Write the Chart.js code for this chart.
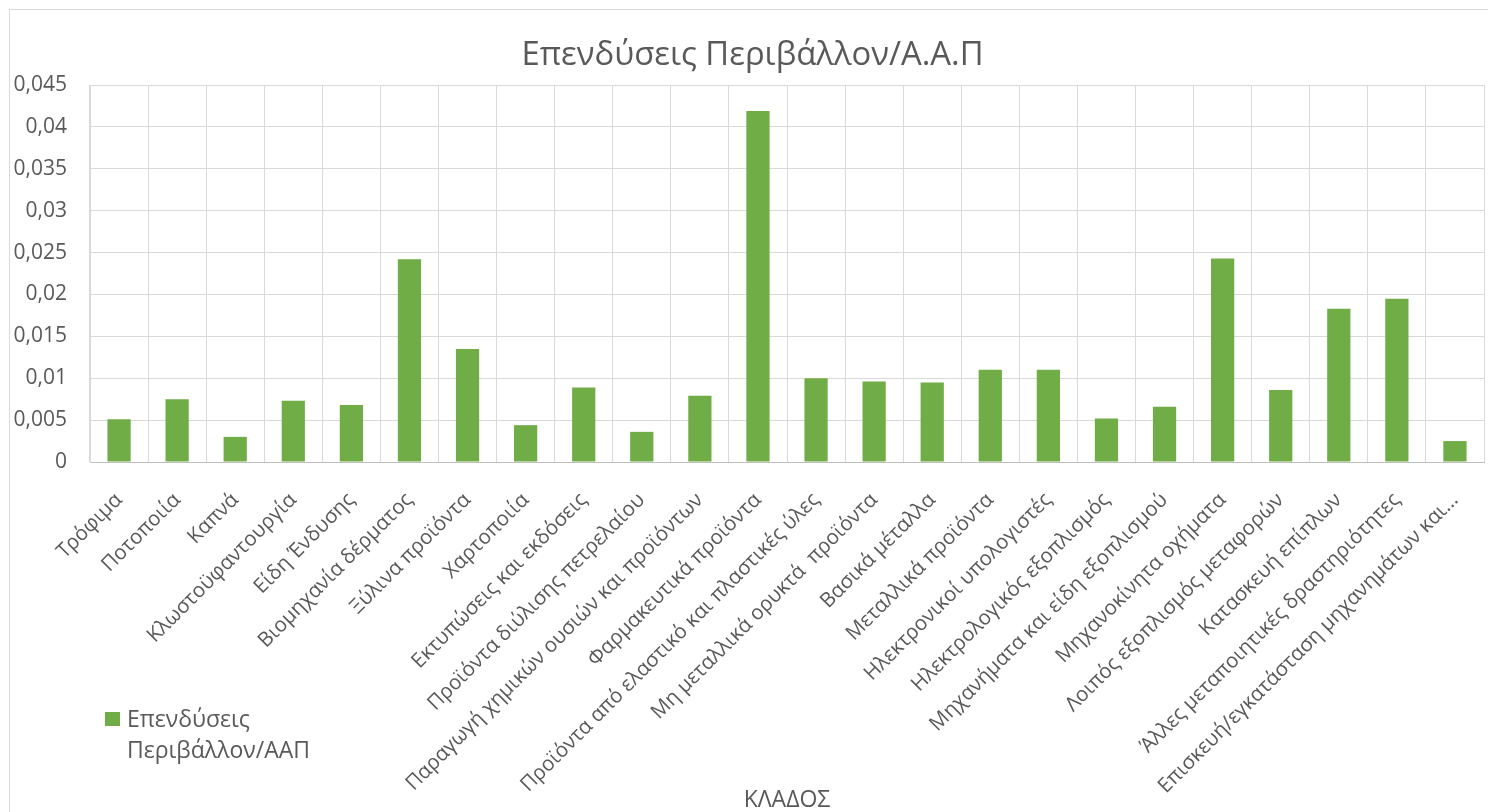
<!DOCTYPE html>
<html>
<head>
<meta charset="utf-8">
<script src="https://cdn.jsdelivr.net/npm/chart.js@4/dist/chart.umd.min.js"></script>
<style>
  html, body { margin: 0; padding: 0; background: #ffffff; overflow: hidden; }
  #wrap { position: relative; width: 1488px; height: 812px; overflow: hidden; }
  #chart { position: absolute; left: 0; top: 0; }
</style>
</head>
<body>
<div id="wrap"><canvas id="chart" width="1505" height="812"></canvas></div>
<script>
// Sectors (categories on the x axis)
const sectors = [
  'Τρόφιμα',
  'Ποτοποιία',
  'Καπνά',
  'Κλωστοϋφαντουργία',
  'Είδη Ένδυσης',
  'Βιομηχανία δέρματος',
  'Ξύλινα προϊόντα',
  'Χαρτοποιία',
  'Εκτυπώσεις και εκδόσεις',
  'Προϊόντα διύλισης πετρελαίου',
  'Παραγωγή χημικών ουσιών και προϊόντων',
  'Φαρμακευτικά προϊόντα',
  'Προϊόντα από ελαστικό και πλαστικές ύλες',
  'Μη μεταλλικά ορυκτά  προϊόντα',
  'Βασικά μέταλλα',
  'Μεταλλικά προϊόντα',
  'Ηλεκτρονικοί υπολογιστές',
  'Ηλεκτρολογικός εξοπλισμός',
  'Μηχανήματα και είδη εξοπλισμού',
  'Μηχανοκίνητα οχήματα',
  'Λοιπός εξοπλισμός μεταφορών',
  'Κατασκευή επίπλων',
  'Άλλες μεταποιητικές δραστηριότητες',
  'Επισκευή/εγκατάσταση μηχανημάτων και...'
];

// Environmental investment / GVA ratio per sector
const envInvestRatio = [
  0.0051, 0.0075, 0.0030, 0.0073, 0.0068, 0.0242, 0.0135, 0.0044,
  0.0089, 0.0036, 0.0079, 0.0419, 0.0100, 0.0096, 0.0095, 0.0110,
  0.0110, 0.0052, 0.0066, 0.0243, 0.0086, 0.0183, 0.0195, 0.0025
];

const chartTitle = 'Επενδύσεις Περιβάλλον/Α.Α.Π';
const seriesName = 'Επενδύσεις Περιβάλλον/ΑΑΠ';
const legendLines = ['Επενδύσεις', 'Περιβάλλον/ΑΑΠ'];
const xAxisTitle = 'ΚΛΑΔΟΣ';

// y axis range and step
const yMin = 0;
const yMax = 0.045;
const yStep = 0.005;

const FONT = "'Open Sans', 'Noto Sans', sans-serif";
const TEXT = '#595959';
const GRID = '#d9d9d9';
const BAR = '#70ad47';

// Outer frame of the chart area
const framePlugin = {
  id: 'frame',
  beforeDraw(chart) {
    const ctx = chart.ctx;
    ctx.save();
    ctx.fillStyle = '#ffffff';
    ctx.fillRect(0, 0, chart.width, chart.height);
    ctx.strokeStyle = GRID;
    ctx.lineWidth = 1;
    ctx.strokeRect(9.5, 9.5, chart.width + 20, chart.height + 20);
    ctx.restore();
  }
};

// Title centred over the framed chart area (frame runs from x=9 to x=1496)
const headerTitle = {
  id: 'headerTitle',
  afterDraw(chart) {
    const ctx = chart.ctx;
    ctx.save();
    ctx.fillStyle = TEXT;
    ctx.font = '32.8px ' + FONT;
    ctx.textAlign = 'center';
    ctx.textBaseline = 'alphabetic';
    ctx.fillText(chartTitle, (9 + 1496) / 2, 65);
    ctx.restore();
  }
};

// Two-line legend at the lower left
const sideLegend = {
  id: 'sideLegend',
  afterDraw(chart) {
    const ctx = chart.ctx;
    const ds = chart.data.datasets[0];
    ctx.save();
    ctx.fillStyle = ds.backgroundColor;
    ctx.fillRect(105, 712, 15, 14);
    ctx.fillStyle = TEXT;
    ctx.font = '23px ' + FONT;
    ctx.textAlign = 'left';
    ctx.textBaseline = 'alphabetic';
    legendLines.forEach((line, i) => {
      ctx.fillText(line, 127, 727 + i * 31);
    });
    ctx.restore();
  }
};

new Chart(document.getElementById('chart'), {
  type: 'bar',
  data: {
    labels: sectors,
    datasets: [{
      label: seriesName,
      data: envInvestRatio,
      backgroundColor: BAR,
      borderWidth: 0,
      barPercentage: 0.4,
      categoryPercentage: 1.0
    }]
  },
  options: {
    responsive: false,
    animation: false,
    devicePixelRatio: 1,
    layout: { padding: { left: 0, right: 21, top: 85, bottom: 0 } },
    plugins: {
      legend: { display: false },
      tooltip: { enabled: false },
      title: { display: false }
    },
    scales: {
      x: {
        grid: { color: GRID, lineWidth: 1, drawTicks: false, offset: true },
        border: { color: '#bfbfbf', width: 1 },
        ticks: {
          color: TEXT,
          font: { family: FONT, size: 20.5 },
          minRotation: 45,
          maxRotation: 45,
          autoSkip: false,
          padding: 26
        },
        title: {
          display: true,
          text: xAxisTitle,
          color: TEXT,
          font: { family: FONT, size: 23 },
          padding: { top: 0, bottom: -2 }
        },
        afterFit(scale) { scale.height = 812 - 462; }
      },
      y: {
        min: yMin,
        max: yMax,
        grid: { color: GRID, lineWidth: 1, drawTicks: false },
        border: { color: GRID, width: 1 },
        ticks: {
          stepSize: yStep,
          color: TEXT,
          font: { family: FONT, size: 21 },
          padding: 23,
          callback: (v) => Number(v.toFixed(3)).toString().replace('.', ',')
        },
        afterFit(scale) { scale.width = 90; }
      }
    }
  },
  plugins: [framePlugin, headerTitle, sideLegend]
});
</script>
</body>
</html>
